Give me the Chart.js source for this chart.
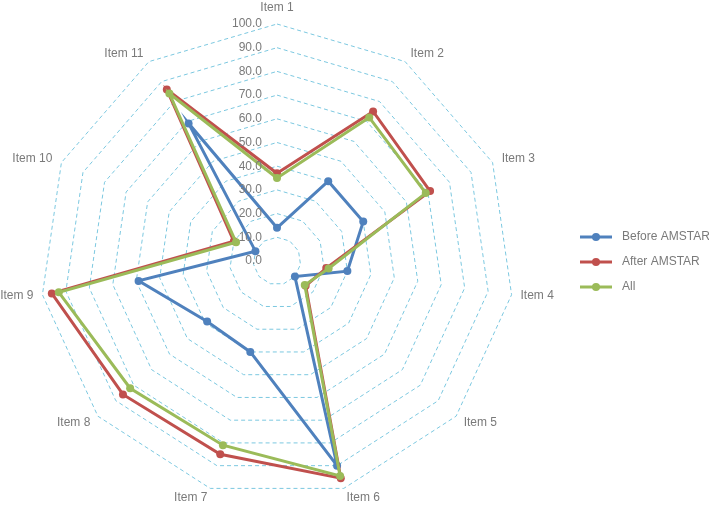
<!DOCTYPE html>
<html>
<head>
<meta charset="utf-8">
<script src="https://cdn.jsdelivr.net/npm/chart.js@4"></script>
<style>
  html, body { margin: 0; padding: 0; background: #fff; }
  #wrap { width: 709px; height: 506px; }
</style>
</head>
<body>
<div id="wrap"><canvas id="chartCanvas" width="709" height="506"></canvas></div>
<script>
const labels = ["Item 1", "Item 2", "Item 3", "Item 4", "Item 5", "Item 6", "Item 7", "Item 8", "Item 9", "Item 10", "Item 11"];
const beforeAmstar = [14, 40, 40, 30, 10, 90, 40, 39, 59, 10, 69];
const afterAmstar = [37, 75, 71, 21, 16, 95.5, 85, 86, 96, 20, 86];
const allStudies = [35, 72, 69, 22, 15.5, 94.5, 81, 82, 93, 19, 84];
const tickValues = [0, 10, 20, 30, 40, 50, 60, 70, 80, 90, 100];

const textColor = "#7a7a7a";
const fontFamily = "'Liberation Sans', Arial, sans-serif";

// tick labels sit left of the Item 1 axis, like the original
const tickLabelPlugin = {
  id: "tickLabels",
  afterDraw(chart) {
    const scale = chart.scales.r;
    const ctx = chart.ctx;
    ctx.save();
    ctx.font = "12px " + fontFamily;
    ctx.fillStyle = textColor;
    ctx.textAlign = "right";
    ctx.textBaseline = "middle";
    tickValues.forEach(v => {
      const p = scale.getPointPositionForValue(0, v);
      ctx.fillText(v.toFixed(1), p.x - 15, p.y);
    });
    ctx.restore();
  }
};

const legendPlugin = {
  id: "sideLegend",
  afterDraw(chart) {
    const ctx = chart.ctx;
    ctx.save();
    ctx.font = "12px " + fontFamily;
    ctx.textBaseline = "middle";
    ctx.textAlign = "left";
    chart.data.datasets.forEach((ds, i) => {
      const y = 237 + i * 25;
      ctx.strokeStyle = ds.borderColor;
      ctx.lineWidth = 3;
      ctx.beginPath();
      ctx.moveTo(580, y);
      ctx.lineTo(612, y);
      ctx.stroke();
      ctx.fillStyle = ds.borderColor;
      ctx.beginPath();
      ctx.arc(596, y, 4, 0, Math.PI * 2);
      ctx.fill();
      ctx.fillStyle = textColor;
      ctx.fillText(ds.label, 622, y);
    });
    ctx.restore();
  }
};

const ctx = document.getElementById("chartCanvas").getContext("2d");
const chart = new Chart(ctx, {
  type: "radar",
  data: {
    labels: labels,
    datasets: [
      { label: "Before AMSTAR", data: beforeAmstar, borderColor: "#4F81BD", backgroundColor: "#4F81BD", order: 3 },
      { label: "After AMSTAR", data: afterAmstar, borderColor: "#C0504D", backgroundColor: "#C0504D", order: 2 },
      { label: "All", data: allStudies, borderColor: "#9BBB59", backgroundColor: "#9BBB59", order: 1 }
    ]
  },
  options: {
    responsive: false,
    animation: false,
    devicePixelRatio: 1,
    layout: { padding: { left: 0, right: 155, top: 0, bottom: 0 } },
    elements: {
      line: { borderWidth: 3, fill: false, tension: 0 },
      point: { radius: 4, borderWidth: 0, hoverRadius: 4 }
    },
    plugins: {
      legend: { display: false },
      tooltip: { enabled: false }
    },
    scales: {
      r: {
        min: 0,
        max: 100,
        ticks: { stepSize: 10, display: false },
        angleLines: { display: false },
        grid: {
          circular: false,
          color: "#7CC8E0",
          lineWidth: 1
        },
        border: { dash: [4, 3] },
        pointLabels: {
          color: textColor,
          font: { family: fontFamily, size: 12, lineHeight: 0 },
          padding: c => (c.index === 0 ? 16 : (c.index === 3 || c.index === 8 ? 9 : 10))
        }
      }
    }
  },
  plugins: [tickLabelPlugin, legendPlugin]
});
</script>
</body>
</html>
